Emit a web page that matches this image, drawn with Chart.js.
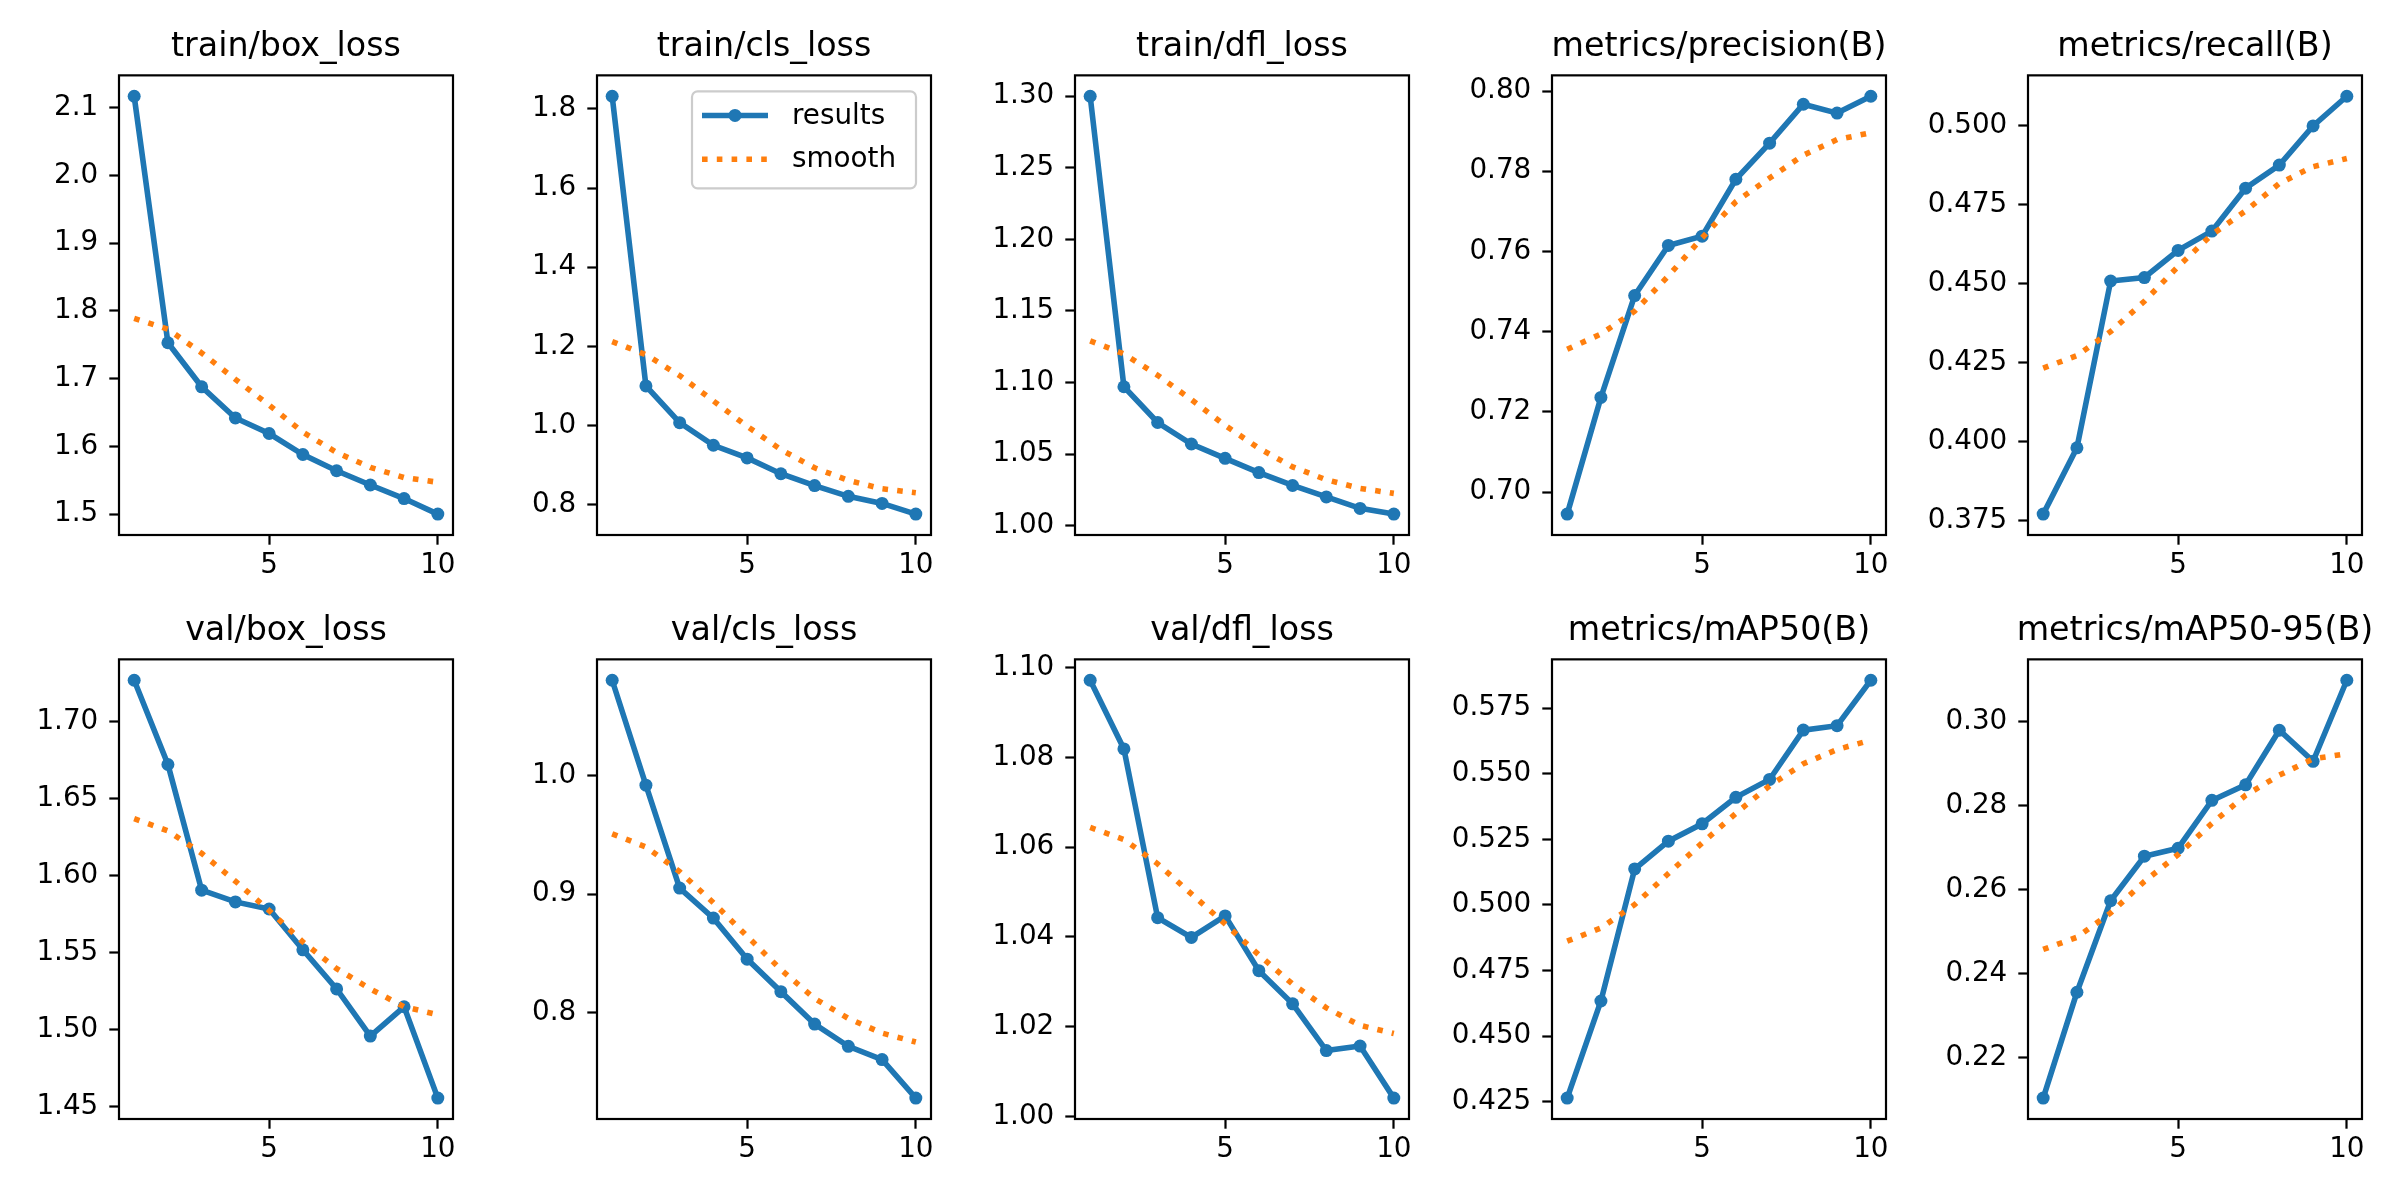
<!DOCTYPE html>
<html>
<head>
<meta charset="utf-8">
<script src="https://cdn.jsdelivr.net/npm/chart.js@4.4.1/dist/chart.umd.min.js"></script>
<style>
  html, body { margin: 0; padding: 0; background: #fff; }
  #fig { position: relative; width: 2400px; height: 1200px; overflow: hidden; background: #fff; }
  #fig canvas { position: absolute; }
</style>
</head>
<body>
<div id="fig"></div>
<script>
// epochs on the x axis
const epochs = [1, 2, 3, 4, 5, 6, 7, 8, 9, 10];
const xTickValues = [5, 10];

// panel titles, in row order
const titles = [
  "train/box_loss", "train/cls_loss", "train/dfl_loss", "metrics/precision(B)", "metrics/recall(B)",
  "val/box_loss", "val/cls_loss", "val/dfl_loss", "metrics/mAP50(B)", "metrics/mAP50-95(B)"
];

// results + smoothed curve per panel
const trainBoxLoss       = [2.117, 1.753, 1.688, 1.642, 1.619, 1.588, 1.564, 1.543, 1.523, 1.500];
const trainBoxLossSmooth = [1.789, 1.773, 1.738, 1.699, 1.661, 1.621, 1.591, 1.569, 1.554, 1.547];
const trainClsLoss       = [1.832, 1.100, 1.007, 0.950, 0.918, 0.878, 0.848, 0.821, 0.803, 0.776];
const trainClsLossSmooth = [1.212, 1.179, 1.126, 1.062, 0.998, 0.939, 0.893, 0.861, 0.840, 0.830];
const trainDflLoss       = [1.300, 1.097, 1.072, 1.057, 1.047, 1.037, 1.028, 1.020, 1.012, 1.008];
const trainDflLossSmooth = [1.129, 1.120, 1.105, 1.088, 1.070, 1.054, 1.041, 1.032, 1.026, 1.0225];
const precision          = [0.6945, 0.7236, 0.7490, 0.7615, 0.7638, 0.7780, 0.7870, 0.7967, 0.7945, 0.7987];
const precisionSmooth    = [0.7356, 0.7394, 0.7451, 0.7539, 0.7634, 0.7724, 0.7783, 0.7840, 0.7879, 0.7896];
const recall             = [0.3771, 0.3981, 0.4509, 0.4520, 0.4606, 0.4667, 0.4803, 0.4876, 0.5000, 0.5094];
const recallSmooth       = [0.4233, 0.4273, 0.4349, 0.4445, 0.4555, 0.4656, 0.4731, 0.4818, 0.4871, 0.4897];
const valBoxLoss         = [1.7269, 1.6722, 1.5906, 1.5830, 1.5784, 1.5519, 1.5265, 1.4959, 1.5149, 1.4556];
const valBoxLossSmooth   = [1.6370, 1.6291, 1.6145, 1.5964, 1.5774, 1.5570, 1.5397, 1.5265, 1.5149, 1.5098];
const valClsLoss         = [1.0804, 0.9919, 0.9051, 0.8798, 0.8452, 0.8178, 0.7904, 0.7717, 0.7605, 0.7280];
const valClsLossSmooth   = [0.9509, 0.9398, 0.9190, 0.8928, 0.8645, 0.8364, 0.8120, 0.7952, 0.7828, 0.7753];
const valDflLoss         = [1.0972, 1.0819, 1.0443, 1.0399, 1.0447, 1.0325, 1.0251, 1.0147, 1.0157, 1.0041];
const valDflLossSmooth   = [1.0644, 1.0617, 1.0563, 1.0496, 1.0429, 1.0360, 1.0295, 1.0242, 1.0203, 1.0185];
const mAP50              = [0.4264, 0.4634, 0.5137, 0.5243, 0.5309, 0.5410, 0.5478, 0.5666, 0.5683, 0.5856];
const mAP50Smooth        = [0.4862, 0.4912, 0.5001, 0.5120, 0.5236, 0.5349, 0.5454, 0.5538, 0.5592, 0.5628];
const mAP5095            = [0.2104, 0.2356, 0.2574, 0.2680, 0.2699, 0.2813, 0.2850, 0.2980, 0.2906, 0.3099];
const mAP5095Smooth      = [0.2458, 0.2487, 0.2545, 0.2620, 0.2684, 0.2758, 0.2825, 0.2873, 0.2912, 0.2924];

// y tick labels per panel
const trainBoxTicks   = ["1.5", "1.6", "1.7", "1.8", "1.9", "2.0", "2.1"];
const trainClsTicks   = ["0.8", "1.0", "1.2", "1.4", "1.6", "1.8"];
const trainDflTicks   = ["1.00", "1.05", "1.10", "1.15", "1.20", "1.25", "1.30"];
const precisionTicks  = ["0.70", "0.72", "0.74", "0.76", "0.78", "0.80"];
const recallTicks     = ["0.375", "0.400", "0.425", "0.450", "0.475", "0.500"];
const valBoxTicks     = ["1.45", "1.50", "1.55", "1.60", "1.65", "1.70"];
const valClsTicks     = ["0.8", "0.9", "1.0"];
const valDflTicks     = ["1.00", "1.02", "1.04", "1.06", "1.08", "1.10"];
const mAP50Ticks      = ["0.425", "0.450", "0.475", "0.500", "0.525", "0.550", "0.575"];
const mAP5095Ticks    = ["0.22", "0.24", "0.26", "0.28", "0.30"];

const panels = [
  { results: trainBoxLoss, smooth: trainBoxLossSmooth, ticks: trainBoxTicks },
  { results: trainClsLoss, smooth: trainClsLossSmooth, ticks: trainClsTicks, legend: true },
  { results: trainDflLoss, smooth: trainDflLossSmooth, ticks: trainDflTicks },
  { results: precision, smooth: precisionSmooth, ticks: precisionTicks },
  { results: recall, smooth: recallSmooth, ticks: recallTicks },
  { results: valBoxLoss, smooth: valBoxLossSmooth, ticks: valBoxTicks },
  { results: valClsLoss, smooth: valClsLossSmooth, ticks: valClsTicks },
  { results: valDflLoss, smooth: valDflLossSmooth, ticks: valDflTicks },
  { results: mAP50, smooth: mAP50Smooth, ticks: mAP50Ticks },
  { results: mAP5095, smooth: mAP5095Smooth, ticks: mAP5095Ticks }
];

// layout of the axes boxes (pixels)
const colLefts = [119, 597, 1075, 1552, 2028];
const rowTops = [75, 659];
const rowHeights = [460, 460];
const plotWidth = 334;
const sideW = 110;     // room for y tick labels (mirrored on the right)
const titleH = 58;
const xAxisH = 60;

const BLUE = "#1f77b4";
const ORANGE = "#ff7f0e";
const LW = 5.6;

Chart.defaults.font.family = "'DejaVu Sans', sans-serif";
Chart.defaults.color = "#000";

// all four spines like matplotlib
const framePlugin = {
  id: "frame",
  afterDatasetsDraw(chart) {
    const { ctx, chartArea: a } = chart;
    ctx.save();
    ctx.strokeStyle = "#000";
    ctx.lineWidth = 2.2;
    ctx.strokeRect(a.left, a.top, a.right - a.left, a.bottom - a.top);
    ctx.restore();
  }
};

// legend drawn inside the axes (upper right)
const innerLegendPlugin = {
  id: "innerLegend",
  afterDraw(chart, args, opts) {
    if (!opts.show) return;
    const { ctx, chartArea: a } = chart;
    const w = 224, h = 97;
    const x0 = a.right - 15 - w, y0 = a.top + 16;
    ctx.save();
    ctx.beginPath();
    ctx.roundRect(x0, y0, w, h, 5.6);
    ctx.fillStyle = "rgba(255,255,255,0.8)";
    ctx.fill();
    ctx.strokeStyle = "#cccccc";
    ctx.lineWidth = 2.2;
    ctx.stroke();
    ctx.font = "27.8px 'DejaVu Sans'";
    ctx.textBaseline = "middle";
    ctx.textAlign = "left";
    chart.data.datasets.forEach((ds, k) => {
      const cy = y0 + 24.1 + k * 43.8;
      ctx.beginPath();
      ctx.setLineDash(ds.borderDash || []);
      ctx.lineCap = "butt";
      ctx.strokeStyle = ds.borderColor;
      ctx.lineWidth = ds.borderWidth;
      ctx.moveTo(x0 + 10, cy);
      ctx.lineTo(x0 + 76, cy);
      ctx.stroke();
      ctx.setLineDash([]);
      if (ds.pointRadius > 0) {
        ctx.beginPath();
        ctx.fillStyle = ds.borderColor;
        ctx.arc(x0 + 43, cy, ds.pointRadius, 0, Math.PI * 2);
        ctx.fill();
      }
      ctx.fillStyle = "#000";
      ctx.fillText(ds.label, x0 + 100, cy + 1);
    });
    ctx.restore();
  }
};

const fig = document.getElementById("fig");

panels.forEach((p, i) => {
  const col = i % 5, row = Math.floor(i / 5);
  const plotH = rowHeights[row];
  const cv = document.createElement("canvas");
  const W = sideW + plotWidth + sideW;
  const H = titleH + plotH + xAxisH;
  cv.width = W;
  cv.height = H;
  cv.style.width = W + "px";
  cv.style.height = H + "px";
  cv.style.left = (colLefts[col] - sideW) + "px";
  cv.style.top = (rowTops[row] - titleH) + "px";
  fig.appendChild(cv);

  const all = p.results.concat(p.smooth);
  const lo = Math.min(...all), hi = Math.max(...all);
  const pad = (hi - lo) * 0.05;
  const tickVals = p.ticks.map(Number);

  new Chart(cv, {
    type: "line",
    data: {
      datasets: [
        {
          label: "results",
          data: epochs.map((x, k) => ({ x: x, y: p.results[k] })),
          borderColor: BLUE,
          backgroundColor: BLUE,
          borderWidth: LW,
          pointRadius: 6.5,
          pointHoverRadius: 6.5,
          pointBorderWidth: 0,
          pointBackgroundColor: BLUE,
          tension: 0,
          order: 1
        },
        {
          label: "smooth",
          data: epochs.map((x, k) => ({ x: x, y: p.smooth[k] })),
          borderColor: ORANGE,
          backgroundColor: ORANGE,
          borderWidth: LW,
          borderDash: [5.6, 9.2],
          borderCapStyle: "butt",
          pointRadius: 0,
          tension: 0,
          order: 0
        }
      ]
    },
    options: {
      responsive: false,
      animation: false,
      devicePixelRatio: 1,
      events: [],
      layout: { padding: 0 },
      plugins: {
        legend: { display: false },
        tooltip: { enabled: false },
        title: {
          display: true,
          text: titles[i],
          color: "#000",
          font: { size: 33.3, weight: "normal", lineHeight: 1.2 },
          padding: { top: 10, bottom: 8.4 }
        },
        innerLegend: { show: !!p.legend }
      },
      scales: {
        x: {
          type: "linear",
          min: 0.55,
          max: 10.45,
          afterBuildTicks: (s) => { s.ticks = xTickValues.map(v => ({ value: v })); },
          afterFit: (s) => { s.height = xAxisH; },
          border: { display: false },
          grid: { drawOnChartArea: false, drawTicks: true, tickLength: 9.7, tickWidth: 2.2, tickColor: "#000", color: "#000" },
          ticks: { font: { size: 27.8 }, color: "#000", padding: 4.5, maxRotation: 0, autoSkip: false }
        },
        y: {
          type: "linear",
          position: "left",
          min: lo - pad,
          max: hi + pad,
          afterBuildTicks: (s) => { s.ticks = tickVals.map(v => ({ value: v })); },
          afterFit: (s) => { s.width = sideW; },
          border: { display: false },
          grid: { drawOnChartArea: false, drawTicks: true, tickLength: 9.7, tickWidth: 2.2, tickColor: "#000", color: "#000" },
          ticks: {
            font: { size: 27.8 },
            color: "#000",
            padding: 11,
            autoSkip: false,
            callback: (v, idx) => p.ticks[idx]
          }
        },
        yR: {
          type: "linear",
          position: "right",
          display: true,
          afterFit: (s) => { s.width = sideW; },
          border: { display: false },
          grid: { display: false },
          ticks: { display: false }
        }
      }
    },
    plugins: [framePlugin, innerLegendPlugin]
  });
});
</script>
</body>
</html>
